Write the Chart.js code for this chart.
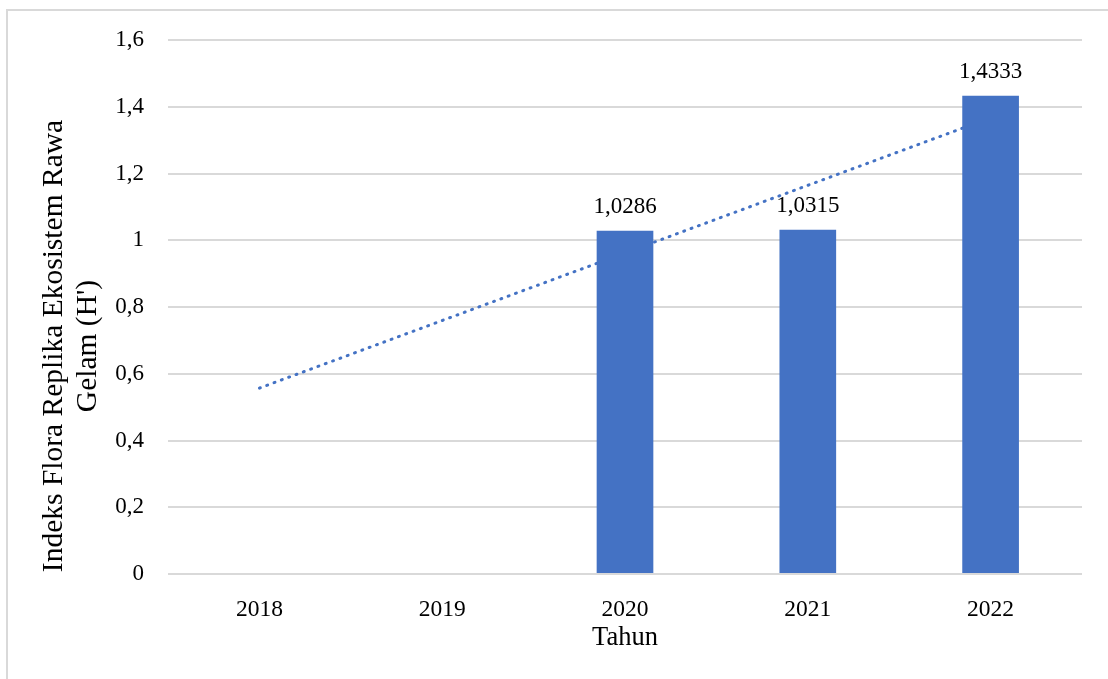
<!DOCTYPE html>
<html>
<head>
<meta charset="utf-8">
<script src="https://cdn.jsdelivr.net/npm/chart.js@4/dist/chart.umd.min.js"></script>
<style>
  html, body { margin: 0; padding: 0; background: #fff; }
  #wrap { position: relative; width: 1108px; height: 679px; }
</style>
</head>
<body>
<div id="wrap"><canvas id="floraChart"></canvas></div>
<script>
const years = ['2018', '2019', '2020', '2021', '2022'];
const indeksValues = [null, null, 1.0286, 1.0315, 1.4333];
// garis tren (ujung-ujungnya)
const trendValues = [0.557, null, null, null, 1.367];
const yTicks = [0, 0.2, 0.4, 0.6, 0.8, 1, 1.2, 1.4, 1.6];
const yTitleLines = ['Indeks Flora Replika Ekosistem Rawa', "Gelam (H')"];
const xTitle = 'Tahun';

const serif = "'Liberation Serif', 'Times New Roman', serif";
const blue = '#4472C4';
const gridGray = '#d9d9d9';

const fmt = v => String(v).replace('.', ',');

// bingkai luar + judul sumbu Y + label nilai di atas batang
const extras = {
    id: 'extras',
    beforeDraw(chart) {
        const ctx = chart.ctx;
        ctx.save();
        ctx.strokeStyle = gridGray;
        ctx.lineWidth = 2;
        ctx.beginPath();
        ctx.moveTo(1108, 10);
        ctx.lineTo(7, 10);
        ctx.lineTo(7, 679);
        ctx.stroke();

        ctx.fillStyle = '#000';
        ctx.font = '29.5px ' + serif;
        ctx.textAlign = 'center';
        ctx.textBaseline = 'alphabetic';
        ctx.translate(0, 346);
        ctx.rotate(-Math.PI / 2);
        ctx.fillText(yTitleLines[0], 0, 62);
        ctx.fillText(yTitleLines[1], 0, 96);
        ctx.restore();
    },
    afterDatasetsDraw(chart) {
        const ctx = chart.ctx;
        const meta = chart.getDatasetMeta(0);
        ctx.save();
        ctx.fillStyle = '#000';
        ctx.font = '23px ' + serif;
        ctx.textAlign = 'center';
        ctx.textBaseline = 'alphabetic';
        meta.data.forEach((bar, i) => {
            const v = indeksValues[i];
            if (v === null) return;
            ctx.fillText(fmt(v), bar.x, bar.y - 18);
        });
        ctx.restore();
    }
};

new Chart(document.getElementById('floraChart'), {
    type: 'bar',
    data: {
        labels: years,
        datasets: [{
            type: 'bar',
            data: indeksValues,
            backgroundColor: blue,
            barPercentage: 0.31,
            categoryPercentage: 1,
            order: 1
        }, {
            type: 'line',
            data: trendValues,
            borderColor: blue,
            borderWidth: 3,
            borderDash: [1, 6.8],
            borderCapStyle: 'round',
            pointRadius: 0,
            spanGaps: true,
            fill: false,
            order: 2
        }]
    },
    options: {
        responsive: true,
        maintainAspectRatio: false,
        animation: false,
        layout: { padding: { top: 40, right: 26, bottom: 0, left: 0 } },
        plugins: {
            legend: { display: false },
            tooltip: { enabled: false }
        },
        scales: {
            x: {
                grid: { display: false },
                border: { display: false },
                ticks: { color: '#000', font: { family: serif, size: 23.5 }, padding: 14 },
                title: {
                    display: true,
                    text: xTitle,
                    color: '#000',
                    font: { family: serif, size: 26.5 },
                    padding: { top: 0, bottom: 25 }
                },
                afterFit: s => { s.height = 105; }
            },
            y: {
                min: 0,
                max: 1.6,
                afterBuildTicks: s => { s.ticks = yTicks.map(v => ({ value: v })); },
                grid: { color: gridGray, lineWidth: 2, drawTicks: false },
                border: { display: false },
                ticks: {
                    color: '#000',
                    font: { family: serif, size: 23 },
                    padding: 24,
                    callback: v => fmt(v)
                },
                afterFit: s => { s.width = 168; }
            }
        }
    },
    plugins: [extras]
});
</script>
</body>
</html>
